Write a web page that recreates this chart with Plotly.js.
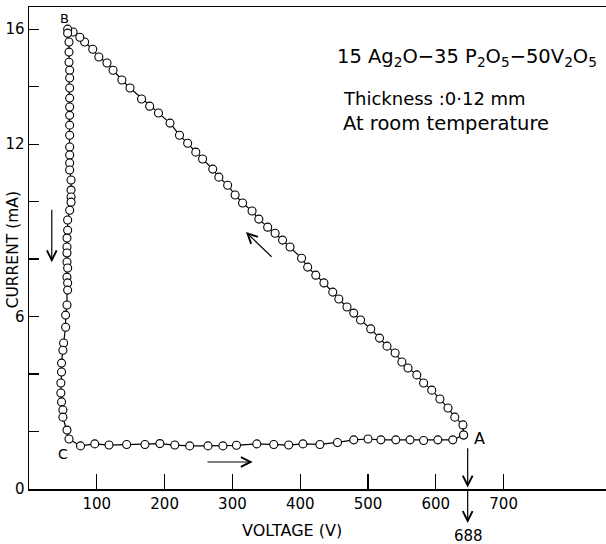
<!DOCTYPE html>
<html><head><meta charset="utf-8">
<script src="https://cdn.plot.ly/plotly-3.0.1.min.js"></script>
<style>html,body{margin:0;padding:0;background:#fff}#chart{width:606px;height:544px}</style>
</head><body><div id="chart"></div>
<script>
// Branch A -> B (diagonal, decreasing voltage)
const diagVoltage = [641,640,628,618,606,594,582,572,559,550,540,528,517,504,489,479,469,457,448,435,423,411,402,385,374,363,352,339,329,315,304,293,280,271,256,246,234,222,208,191,178,166,149,137,124,115,103,94,82,75,65,57];
const diagCurrent = [1.88,2.23,2.50,2.82,3.13,3.44,3.69,3.97,4.21,4.42,4.73,4.97,5.25,5.57,5.88,6.12,6.33,6.61,6.85,7.17,7.44,7.72,8.03,8.42,8.66,8.90,9.11,9.39,9.67,9.95,10.23,10.57,10.85,11.13,11.48,11.72,12.03,12.31,12.73,13.08,13.32,13.57,13.95,14.23,14.57,14.82,15.03,15.30,15.55,15.72,15.90,16.00];
// Branch B -> C (near-vertical, decreasing current)
const vertVoltage = [57,59,59,59,60,60,60,60,60,60,60,60,60,60,60,60,62,62,62,62,60,57,57,56,56,56,56,57,56,57,57,56,54,54,51,50,48,48,47,47,48,50,50,56,59];
const vertCurrent = [15.86,15.55,15.20,14.85,14.57,14.30,13.95,13.60,13.29,13.00,12.66,12.31,11.90,11.62,11.34,11.10,10.75,10.40,10.16,9.98,9.70,9.36,9.00,8.73,8.42,8.21,7.90,7.69,7.37,7.17,6.92,6.40,6.05,5.63,5.08,4.83,4.38,4.07,3.69,3.34,3.03,2.75,2.50,2.05,1.74];
// Branch C -> A (bottom, increasing voltage)
const bottomVoltage = [76,97,118,144,171,193,215,237,264,286,306,336,361,383,404,429,455,479,500,519,541,562,582,603,625,641];
const bottomCurrent = [1.50,1.57,1.53,1.55,1.55,1.58,1.53,1.50,1.50,1.50,1.52,1.57,1.55,1.53,1.57,1.55,1.62,1.71,1.74,1.71,1.71,1.71,1.69,1.71,1.71,1.88];

const xTickVals = [100,200,300,400,500,600,700];
const xTickText = ['100','200','300','400','500','600','700'];
const yTickVals = [0,2,4,6,8,10,12,14,16];
const yTickText = ['0','','','6','','','12','','16'];

const V = diagVoltage.concat(vertVoltage, bottomVoltage);
const I = diagCurrent.concat(vertCurrent, bottomCurrent);

const FONT = 'DejaVu Sans, sans-serif';
const trace = {
  x: V, y: I, mode: 'lines+markers', type: 'scatter', cliponaxis: false,
  line: {color: '#000', width: 1.2},
  marker: {symbol: 'circle', size: 8, color: '#fff', line: {color: '#000', width: 1.1}},
  hoverinfo: 'skip', showlegend: false
};

function arrow(x, y, ax, ay) {
  return {x: x, y: y, ax: ax, ay: ay, xref: 'x', yref: 'y', axref: 'x', ayref: 'y',
    showarrow: true, arrowhead: 5, arrowsize: 1.6, arrowwidth: 1.2, arrowcolor: '#000', text: ''};
}
function label(text, x, y, size, xanchor, extra) {
  return Object.assign({text: text, x: x, y: y, xref: 'x', yref: 'y', showarrow: false,
    xanchor: xanchor || 'center', yanchor: 'middle', font: {family: FONT, size: size, color: '#000'}}, extra || {});
}
function plabel(text, x, y, size, extra) {
  return Object.assign({text: text, x: x, y: y, xref: 'paper', yref: 'paper', showarrow: false,
    xanchor: 'center', yanchor: 'middle', font: {family: FONT, size: size, color: '#000'}}, extra || {});
}

const layout = {
  width: 606, height: 544,
  margin: {l: 29, r: 0, t: 7, b: 55},
  paper_bgcolor: '#fff', plot_bgcolor: '#fff',
  showlegend: false,
  font: {family: FONT, color: '#000'},
  xaxis: {
    range: [0, 851], showgrid: false, zeroline: false,
    showline: true, linecolor: '#000', linewidth: 1.5, mirror: true,
    ticks: 'inside', ticklen: 15, tickwidth: 1.2, tickcolor: '#000',
    tickvals: xTickVals, ticktext: xTickText,
    tickfont: {family: FONT, size: 15, color: '#000'}
  },
  yaxis: {
    range: [0, 16.77], showgrid: false, zeroline: false,
    showline: true, linecolor: '#000', linewidth: 1.5,
    ticks: 'inside', ticklen: 10, tickwidth: 1.2, tickcolor: '#000',
    tickvals: yTickVals, ticktext: yTickText,
    tickfont: {family: FONT, size: 15, color: '#000'}
  },
  annotations: [
    label('B', 53, 16.38, 13),
    label('C', 50, 1.22, 14),
    label('A', 665, 1.77, 16),
    label('15 Ag<sub>2</sub>O\u221235 P<sub>2</sub>O<sub>5</sub>\u221250V<sub>2</sub>O<sub>5</sub>', 452, 15.0, 19.5, 'left'),
    label('Thickness :0\u00b712 mm', 460, 13.6, 18, 'left'),
    label('At room temperature', 460, 12.73, 19.5, 'left'),
    plabel('CURRENT (mA)', -0.027, 0.496, 15.5, {textangle: -90}),
    plabel('VOLTAGE (V)', 0.456, -0.087, 16),
    plabel('688', 0.761, -0.097, 15),
    arrow(33.6, 7.89, 33.6, 9.77),
    arrow(330, 0.94, 261, 0.94),
    arrow(320, 8.94, 360, 8.03),
    arrow(647, 0.05, 647, 1.47),
    arrow(647, -1.18, 647, 0)
  ]
};

Plotly.newPlot('chart', [trace], layout, {displayModeBar: false, staticPlot: true});
</script>
</body></html>
